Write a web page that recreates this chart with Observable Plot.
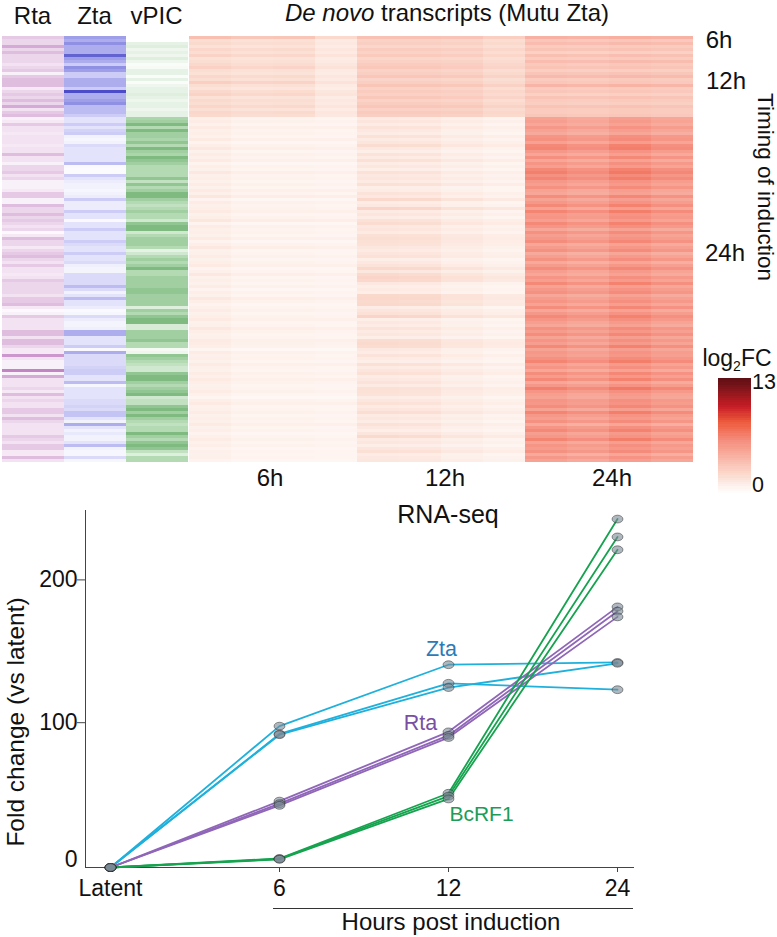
<!DOCTYPE html>
<html>
<head>
<meta charset="utf-8">
<script src="https://cdn.jsdelivr.net/npm/d3@7"></script>
<script src="https://cdn.jsdelivr.net/npm/@observablehq/plot@0.6"></script>
<style>
html,body{margin:0;padding:0;background:#fff}
#root{position:relative;width:777px;height:937px;overflow:hidden;font-family:"Liberation Sans",Arial,sans-serif;color:#111}
#root svg{position:absolute;background:transparent}
.t{position:absolute;white-space:nowrap;transform:translate(-50%,-50%);line-height:1}
</style>
</head>
<body>
<div id="root"></div>
<script>
// ---------- heatmap rows (one value per 3px row band) ----------
const rta = [
4,3,3,6,3,5,3,3,3,2,
3,4,1,4,5,5,5,1.5,3,4,
3,5,3,6,2,4,5,1,1.5,4,
2,2,1.5,2,2,2,1.5,2,2,5,
2,2,1,3,3,4,2,3,1,1,
1,1.5,4,4,1,1,5,3,3,5,
3,4,3,2,3,.5,1.5,5,3,3,
1.5,3,4,5,3,2,4,2,2,1.5,
2,4,3,3,3,3,2,4,4,5,
1.5,.5,1,4,2,2,2,2,5,5,
2,5,5,3,1.5,1.5,7,2,1,1,
1,8,1,6,2,2,2,3,1.5,5,
2,3,2,2,4,4,2,5,3,2,
2,2,2,4,3,2,4,4,1.5,1.5,
5,2];
const zta = [
6,5,7,5,5,5,9,6,5,3,
7,6,3,3,5,5,5,3,10,5,
5,6,7,4,4,4,3,1.5,1.5,3,
1.5,2.5,3,.7,.5,.7,2,1.5,1.5,1.5,
1.5,1.5,4,.3,.2,.2,3,1.5,1,.7,
.7,.5,.7,1,3,1,1,1,3,1.5,
1.5,.3,1.5,1.5,3,1.5,1.5,1.5,3,2,
1.5,1.5,3,1.5,1.5,2,.8,.6,.6,2,
2,2,2,4,2,.7,1.5,4,1.5,1.5,
1,.3,.5,2,1,.6,.6,.8,5,5,
1.5,1.5,1.5,3,.3,5,2,2,2,2,
2.5,3,3,1.5,1.5,4,.5,1.5,1.5,1.5,
1.5,2,2,2.5,2,3.5,3.5,1.5,.7,5,
1.5,.7,1.2,.7,.7,1.5,4,.7,.5,.5,
2,.5];
const vpic = [
0,0,1.5,2,1,1.5,1,2,1,.3,
.5,1.5,1.5,.3,1.5,.3,1,1.5,1.5,2,
1.5,1,1.5,1.5,1,1.5,1.5,5.5,6,8,
5,8,6,6,5.5,7,5,8,6,5.5,
8,7,6,5,5,5,5,7,4,7,
5,6,8,8,6,5,4,5,6,5,
5,3,7,8,8,3,5,6,6,6,
5,1.5,3,5,6,5,6,8,5,5,
6,6,6,6,7,7,6,6,6,6,
2,6,5,7,8,8,2.5,2.5,6,6,
6,7,5,5,.6,1,7,6,5,4,
3,3,7,8,8,6,5,6,7,8,
3,4,4,7,8,6,8,6,5,4,
5,5,8,6,5,7,8,7,4,2,
5,5];
const sixHours = [
3.6,2,2.2,1.8,2.4,2,2.6,1.8,2,2.3,
2.7,2,1.8,2.4,2,2.8,2,1.7,2.3,2.6,
1.8,2.2,2,2.5,1.9,2.4,2.2,.9,1.1,.8,
1.2,.9,1,.8,1.2,.7,1,1.3,.8,1.1,
.9,1.2,.7,1,.8,1.3,.9,1,.8,1.1,
.8,1.2,.9,1.4,.7,1.1,.9,1,1.2,.8,
1,1.4,.7,1.1,.9,1,.8,1.2,.7,1,
1.3,.8,.9,1.1,.8,1,1.2,.7,.9,1.3,
.8,1,.8,1.1,.7,1,.8,1.3,1,.7,
.9,1.1,.8,1,1.2,.8,.9,1.3,1,.8,
.9,1.2,1.1,1,.6,1.1,.9,1,.8,1.2,
.9,.8,1.1,.9,1.2,1,.8,.9,1.1,.8,
.6,1,1.2,.8,.9,1.1,.8,1,.9,1.2,
.8,1,.7,.9,1.1,.8,1,.7,.9,.8,
.9,.7];
const twelveHours = [
3.8,2.8,3,2.6,3.2,2.8,3.3,2.6,2.9,3.2,
3.4,2.8,3,3.5,2.7,3,3.6,2.8,3.2,2.9,
3.4,2.8,3.1,3.5,2.9,3.3,3,1.2,1.5,1.1,
1.6,1.3,1.1,1.7,1.2,1.5,2,1.3,1,1.6,
1.2,1.8,1.1,1.4,1,1.7,1.3,1.5,1.2,1.8,
1,1.1,1.6,1.3,2.2,1.1,1.3,2.4,1.2,1.5,
1.1,1.7,2,1.3,1.5,1.2,1.8,1.9,1.8,1.7,
1.4,1.2,1.5,1.7,1,1.3,1.6,2.2,1.4,2.1,
2.4,2.2,1.3,1,1.2,1,2.2,2.3,2.1,2.2,
1.1,1.5,1.7,2.4,1,1.3,1.1,1.6,1.2,1.4,
1,2,2.1,2,1.3,1.1,1.6,1.2,1,1.8,
1.2,1.5,1.8,1.1,1.3,1.6,1.2,1.8,1.7,1.6,
1.1,1.4,1.7,1.2,1.5,1.9,1.2,1.4,1.1,1.7,
1.3,1,1.5,2.1,1.2,1.4,1,1.5,1.8,1.1,
1.3,1.4];
const twentyFourHours = [
4.4,3.2,3.8,3,3.4,2.7,3.6,3,3.8,3.1,
3.4,2.8,3.3,3.9,3,3.2,4.2,3,3.2,2.7,
3.4,3,2.8,3.4,3,3,3.2,5.4,5.6,5.2,
6,5.4,5,6.2,6.4,5.5,6.8,7,6,5.3,
6.5,5.2,6.2,5.6,6.8,7.2,6.4,7,6,5.6,
6.4,5.4,5.2,6.6,5.4,6,6.8,5.4,7,6,
6.2,5.6,6.8,6.2,5.2,6.4,5.6,6,6.6,5.2,
5.8,6.4,5,5.6,6.3,5,5.8,6.6,5.6,5.2,
6.2,5.6,6.8,5.4,6,6.4,5.2,5.8,6.2,5.4,
6.6,5.2,6,6.8,6.2,5.6,5.2,6.4,5.8,6.6,
5.4,6.2,5.6,6.8,5.4,6,5.8,6.4,7,5.6,
6.2,5.2,6.6,5.8,6.8,5.2,6,7.2,6.2,5.6,
5.4,6.2,6,6.6,5.4,7,6,5.6,6.4,5,
6.2,6.8,5.6,6,7,5.4,6.2,5.8,6.4,5,
6,5.4];

const tracks = ["Rta", "Zta", "vPIC"];
const trackValues = {Rta: rta, Zta: zta, vPIC: vpic};
const trackColor = {
  Rta: d3.scaleLinear([0,2,5,8,10], ["#ffffff","#f3e2f2","#dfbddf","#c384c4","#a95fae"]).clamp(true),
  Zta: d3.scaleLinear([0,1.5,4,7,10], ["#ffffff","#e3e3fb","#bcbcf2","#8f8fe4","#4c4cc8"]).clamp(true),
  vPIC: d3.scaleLinear([0,1.5,5,8,10], ["#ffffff","#e6f2e5","#b4dab3","#7fba80","#4d9a50"]).clamp(true)
};
const timepoints = ["6h","12h","24h"];
const replicates = [1,2,3,4];
const timeValues = {"6h": sixHours, "12h": twelveHours, "24h": twentyFourHours};
const earlyClusterRows = 27;
const gainEarly = {"6h":[.95,.85,.88,.6], "12h":[.88,.88,.84,.7], "24h":[.95,.92,.97,.93]};
const gainLate  = {"6h":[1,.75,.75,.7], "12h":[1,.95,.72,.58], "24h":[.9,.84,.94,.86]};

const heatColors = {type:"linear", domain:[0,2,6,8,9.75,13], range:["#ffffff","#fbdcd0","#f58c7c","#ee5b3c","#c81e26","#5a0f14"], clamp:true};

// ---------- RNA-seq fold change, three replicates each ----------
const hours = ["Latent","6","12","24"];
const ztaFold = [[0,99,142,143.6],[0,93.5,129,124.5],[0,93,126,143]];
const rtaFold = [[0,46.5,95,182.5],[0,44.7,92.5,179.5],[0,43.5,91,175.5]];
const bcrf1Fold = [[0,6.3,52,244],[0,6,50,231.5],[0,5.7,48,222.5]];
const genes = ["Zta","Rta","BcRF1"];
const foldByGene = {Zta: ztaFold, Rta: rtaFold, BcRF1: bcrf1Fold};

const font = '"Liberation Sans",Arial,sans-serif';
const root = document.getElementById("root");
function place(svg, left, top){ svg.style.left = left+"px"; svg.style.top = top+"px"; root.appendChild(svg); }
function label(html, cx, cy, size, extra){
  const d = document.createElement("div"); d.className = "t"; d.innerHTML = html;
  d.style.left = cx+"px"; d.style.top = cy+"px"; d.style.fontSize = size+"px";
  if (extra) Object.assign(d.style, extra);
  root.appendChild(d);
}

// --- annotation tracks
const trackCells = tracks.flatMap(t => trackValues[t].map((v,row) => ({t,row,v})));
const rowDomain = d3.range(rta.length);
place(Plot.plot({
  width:190, height:462, marginLeft:1, marginRight:1, marginTop:36, marginBottom:0,
  style:{fontFamily:font, background:"transparent", overflow:"visible"},
  x:{type:"band", domain:tracks, padding:0, axis:null},
  y:{type:"band", domain:rowDomain, padding:0, axis:null},
  marks:[
    Plot.cell(trackCells,{x:"t", y:"row", fill:d=>trackColor[d.t](d.v), shapeRendering:"crispEdges"}),
    Plot.axisX({anchor:"top", tickSize:0, tickPadding:13, fontSize:24, dx:-1, fill:"#111", label:null})
  ]
}), 0, 0);

// --- de novo transcripts
const columns = timepoints.flatMap(t => replicates.map(r => t+"-"+r));
const denovoCells = timepoints.flatMap(t => replicates.flatMap((r,ri) =>
  timeValues[t].map((v,row) => ({col:t+"-"+r, row, v: v*(row<earlyClusterRows?gainEarly[t][ri]:gainLate[t][ri])}))));
place(Plot.plot({
  width:504, height:462, marginLeft:0, marginRight:0, marginTop:36, marginBottom:0,
  style:{fontFamily:font, background:"transparent"},
  x:{type:"band", domain:columns, padding:0, axis:null},
  y:{type:"band", domain:rowDomain, padding:0, axis:null},
  color:heatColors,
  marks:[Plot.cell(denovoCells,{x:"col", y:"row", fill:"v", shapeRendering:"crispEdges"})]
}), 189, 0);

// --- colour key
const keyLevels = d3.range(0,13,0.25);
place(Plot.plot({
  width:33, height:115, marginLeft:0, marginRight:0, marginTop:0, marginBottom:0,
  style:{fontFamily:font, background:"transparent"},
  x:{axis:null},
  y:{domain:[0,13], axis:null},
  color:heatColors,
  marks:[
    Plot.rect(keyLevels,{y1:d=>d, y2:d=>d+0.25, x1:0, x2:1, fill:d=>d+0.125, inset:0, shapeRendering:"crispEdges"})
  ]
}), 718, 378);

// --- line chart
const foldRows = genes.flatMap(g => foldByGene[g].flatMap((vals,rep) =>
  vals.map((fold,i) => ({gene:g, id:g+rep, hour:hours[i], fold}))));
const ellipse = {draw(ctx,size){
  const r = Math.sqrt(size/Math.PI), a = r*1.4, b = r, k = 0.5523;
  ctx.moveTo(a,0);
  ctx.bezierCurveTo(a,k*b,k*a,b,0,b);
  ctx.bezierCurveTo(-k*a,b,-a,k*b,-a,0);
  ctx.bezierCurveTo(-a,-k*b,-k*a,-b,0,-b);
  ctx.bezierCurveTo(k*a,-b,a,-k*b,a,0);
  ctx.closePath();
}};
place(Plot.plot({
  width:777, height:437, marginLeft:85, marginRight:144, marginTop:10, marginBottom:70,
  style:{fontFamily:font, background:"transparent"},
  x:{type:"point", domain:hours, range:[109,618], padding:0, label:null},
  y:{domain:[0,250], label:null},
  color:{domain:genes, range:["#1fb0dc","#8f66b8","#16a34f"]},
  marks:[
    Plot.frame({anchor:"left", stroke:"#444"}),
    Plot.frame({anchor:"bottom", stroke:"#444"}),
    Plot.axisY({ticks:[100,200], tickSize:8, tickPadding:0, fontSize:23, dy:-2, fill:"#111", stroke:"#444", label:null}),
    Plot.axisY({ticks:[0], tickSize:0, tickPadding:8, fontSize:23, dy:-8, fill:"#111", label:null}),
    Plot.axisX({tickSize:5, tickPadding:7, fontSize:23, fill:"#111", stroke:"#444", label:null}),
    Plot.line(foldRows,{x:"hour", y:"fold", z:"id", stroke:"gene", strokeWidth:1.8}),
    Plot.dot(foldRows,{x:"hour", y:"fold", r:3.9, symbol:ellipse, fill:"#7a8894", fillOpacity:.6, stroke:"#222", strokeOpacity:.65, strokeWidth:.7}),
    Plot.text(["Zta"],{x:["12"], y:[153], dx:-7, text:d=>d, fill:"#2b7bb9", fontSize:21.5}),
    Plot.text(["Rta"],{x:["12"], y:[101], dx:-28, text:d=>d, fill:"#7a4fa3", fontSize:21.5}),
    Plot.text(["BcRF1"],{x:["12"], y:[37], dx:33, text:d=>d, fill:"#1c9c55", fontSize:21})
  ]
}), 0, 500);

// --- free text
label('<i>De novo</i> transcripts (Mutu Zta)', 447, 13, 24);
label('6h', 270, 478, 24); label('12h', 445, 478, 24); label('24h', 612, 478, 24);
label('6h', 719, 40, 24); label('12h', 726, 81, 24); label('24h', 725, 253, 24);
label('Timing of induction', 765, 187, 22.5, {transform:"translate(-50%,-50%) rotate(90deg)"});
label('log<sub style="font-size:14px;line-height:0">2</sub>FC', 737, 358, 23);
label('13', 764, 383, 21.5); label('0', 758, 486, 21.5);
label('RNA-seq', 448, 514, 25);
label('Fold change (vs latent)', 16, 722, 24.5, {transform:"translate(-50%,-50%) rotate(-90deg)"});
label('Hours post induction', 451, 922, 24);
const rule = document.createElement("div");
Object.assign(rule.style,{position:"absolute",left:"273px",top:"908px",width:"360px",height:"1px",background:"#333"});
root.appendChild(rule);
</script>
</body>
</html>
